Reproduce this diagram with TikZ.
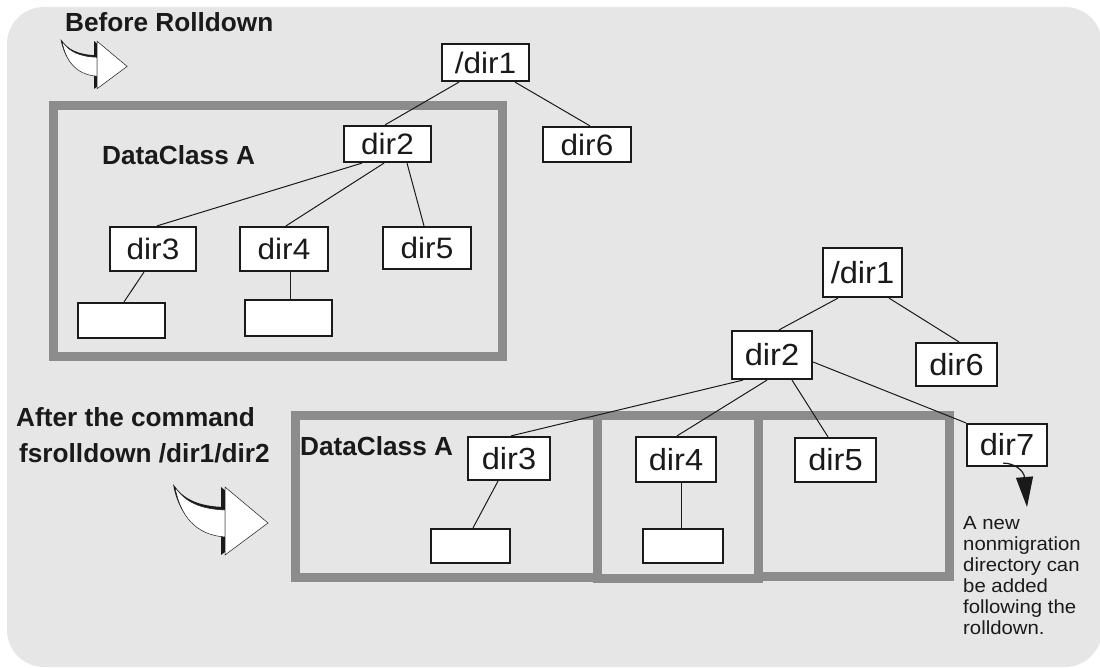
\documentclass[tikz,border=0pt]{standalone}
\usepackage{fontspec}
\setmainfont{Liberation Sans}
\newfontfamily\widefont{Liberation Sans}[FakeStretch=1.07]
\usetikzlibrary{arrows.meta,calc}
\definecolor{bgc}{RGB}{230,230,230}
\definecolor{framec}{RGB}{140,140,140}
\definecolor{inkc}{RGB}{26,26,26}
\begin{document}
\begin{tikzpicture}[x=1pt,y=-1pt,
  dirbox/.style={draw=inkc,line width=2.2pt,fill=white,inner sep=0pt,
    font=\widefont\fontsize{29.5}{32}\selectfont,text=inkc},
  ldirbox/.style={dirbox,font=\widefont\fontsize{30.5}{33}\selectfont},
  conn/.style={draw=inkc,line width=1pt},
  dcframe/.style={draw=framec,line width=9pt},
  blabel/.style={font=\bfseries\fontsize{26.2}{36}\selectfont,text=inkc,
    inner sep=0pt,anchor=base west},
  notetext/.style={font=\widefont\fontsize{19}{21}\selectfont,text=inkc,
    inner sep=0pt,anchor=north west,align=left},
  bentarrow/.pic={
    \fill[inkc,shift={(-2,-3)}] (-50,-34) .. controls (-40,-19) and (-25,-12) .. (0,-11)
      -- (0,16) .. controls (-30,14) and (-45,-6) .. (-50,-34) -- cycle;
    \fill[inkc,shift={(-4,0)}] (0,-34) -- (43,2) -- (0,34) -- cycle;
    \filldraw[fill=white,draw=inkc,line width=0.5pt] (-50,-34) .. controls (-40,-19) and (-25,-12) .. (0,-11)
      -- (0,16) .. controls (-30,14) and (-45,-6) .. (-50,-34) -- cycle;
    \filldraw[fill=white,draw=inkc,line width=0.5pt] (0,-34) -- (43,2) -- (0,34) -- cycle;
  }
]
\useasboundingbox (0,0) rectangle (1100,668);
\fill[bgc,rounded corners=37pt] (7,7) rectangle (1102,667);

% ---------- upper: before rolldown ----------
\node[blabel] (before) at (65,32) {Before Rolldown};
\pic[scale=0.7] at (97,65) {bentarrow};

\draw[dcframe] (53.5,105.5) rectangle (502.5,356.5);
\node[blabel] (dcA1) at (102,165) {DataClass A};

\node[dirbox,minimum width=87pt,minimum height=37pt] (u1) at (485.5,62.5) {/dir1};
\node[dirbox,minimum width=88pt,minimum height=35pt] (u6) at (587,144.5) {dir6};
\node[dirbox,minimum width=87pt,minimum height=36pt] (u2) at (387.5,144) {dir2};
\node[dirbox,minimum width=86pt,minimum height=44pt] (u3) at (153,249) {dir3};
\node[dirbox,minimum width=88pt,minimum height=44pt] (u4) at (284,249) {dir4};
\node[dirbox,minimum width=88pt,minimum height=42pt] (u5) at (427,248) {dir5};
\node[dirbox,minimum width=87pt,minimum height=35pt] (ue3) at (121.5,320.5) {};
\node[dirbox,minimum width=87pt,minimum height=36pt] (ue4) at (288.5,318) {};

\draw[conn] ([xshift=-26.5pt]u1.south) -- ([xshift=-2.5pt]u2.north);
\draw[conn] ([xshift=29.5pt]u1.south) -- ([xshift=3pt]u6.north);
\draw[conn] ([xshift=-25.5pt]u2.south) -- ([xshift=4pt]u3.north);
\draw[conn] ([xshift=-3.5pt]u2.south) -- ([xshift=2pt]u4.north);
\draw[conn] ([xshift=19.5pt]u2.south) -- ([xshift=-3pt]u5.north);
\draw[conn] ([xshift=-9pt]u3.south) -- ([xshift=2.5pt]ue3.north);
\draw[conn] ([xshift=6pt]u4.south) -- ([xshift=1.5pt]ue4.north);

% ---------- lower: after rolldown ----------
\node[blabel] (after1) at (16,426) {After the command};
\node[blabel] (after2) at (19,462) {fsrolldown /dir1/dir2};
\pic at (225,521) {bentarrow};

\draw[dcframe] (295.5,415.5) rectangle (597,577.5);
\draw[dcframe] (597,415.5) rectangle (758,578.5);
\draw[dcframe] (758,415.5) rectangle (949.5,576);
\node[blabel] (dcA2) at (300,455) {DataClass A};

\node[ldirbox,minimum width=79pt,minimum height=49pt] (l1) at (862.5,272.5) {/dir1};
\node[ldirbox,minimum width=80pt,minimum height=48pt] (l2) at (772,355) {dir2};
\node[ldirbox,minimum width=81pt,minimum height=43pt] (l6) at (956.5,364.5) {dir6};
\node[ldirbox,minimum width=82pt,minimum height=43pt] (l3) at (509,458.5) {dir3};
\node[ldirbox,minimum width=80pt,minimum height=45pt] (l4) at (676,459.5) {dir4};
\node[ldirbox,minimum width=81pt,minimum height=44pt] (l5) at (835.5,460) {dir5};
\node[ldirbox,minimum width=80pt,minimum height=42pt] (l7) at (1007,445) {dir7};
\node[dirbox,minimum width=79pt,minimum height=34pt] (le3) at (470.5,546) {};
\node[dirbox,minimum width=80pt,minimum height=34pt] (le4) at (683,546) {};

\draw[conn] ([xshift=-24.5pt]l1.south) -- ([xshift=7pt]l2.north);
\draw[conn] ([xshift=26.5pt]l1.south) -- ([xshift=2.5pt]l6.north);
\draw[conn] ([xshift=-29pt]l2.south) -- ([xshift=2pt]l3.north);
\draw[conn] ([xshift=-5pt]l2.south) -- ([xshift=1pt]l4.north);
\draw[conn] ([xshift=20pt]l2.south) -- ([xshift=-7.5pt]l5.north);
\draw[conn] ([yshift=-7pt]l2.east) -- (l7.north west);
\draw[conn] ([xshift=-11pt]l3.south) -- ([xshift=2.5pt]le3.north);
\draw[conn] ([xshift=5pt]l4.south) -- ([xshift=-2pt]le4.north);

\node[notetext] (note) at (963,516) {A new\\nonmigration\\directory can\\be added\\following the\\rolldown.};
\draw[conn,line width=1.2pt,-{Triangle[length=30pt,width=17pt]}]
  ([xshift=-4pt,yshift=4pt]l7.south) .. controls +(12,0) and +(-3,-36) ..
  ([xshift=64pt,yshift=9pt]note.north west);
\end{tikzpicture}
\end{document}
